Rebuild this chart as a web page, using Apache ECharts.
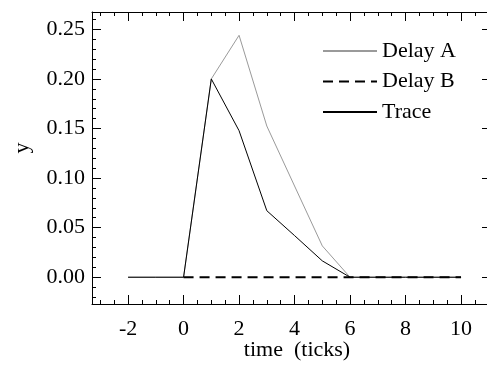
<!DOCTYPE html>
<html>
<head>
<meta charset="utf-8">
<script src="https://cdn.jsdelivr.net/npm/echarts@6/dist/echarts.min.js"></script>
<style>html,body{margin:0;padding:0;background:#fff;}#c{width:487px;height:365px;}</style>
</head>
<body>
<div id="c"></div>
<script>
var xValues = [-2, -1, 0, 1, 2, 3, 4, 5, 6, 7, 8, 9, 10];
var delayA = [0, 0, 0, 0.200, 0.244, 0.1525, 0.092, 0.0316, 0, 0, 0, 0, 0];
var delayBX = [0, 1, 2, 3, 4, 5, 6, 7, 8, 9, 10];
var delayB = [0, 0, 0, 0, 0, 0, 0, 0, 0, 0, 0];
var trace = [0, 0, 0, 0.200, 0.1478, 0.0671, 0.042, 0.0165, 0, 0, 0, 0, 0];
var xMajorTicks = [-2, 0, 2, 4, 6, 8, 10];
var xMinorTicks = [-3, -2.5, -1.5, -1, -0.5, 0.5, 1, 1.5, 2.5, 3, 3.5, 4.5, 5, 5.5, 6.5, 7, 7.5, 8.5, 9, 9.5, 10.5, 11];
var yMajorTicks = [0, 0.05, 0.10, 0.15, 0.20, 0.25];
var yMinorTicks = [-0.02, -0.01, 0.01, 0.02, 0.03, 0.04, 0.06, 0.07, 0.08, 0.09, 0.11, 0.12, 0.13, 0.14, 0.16, 0.17, 0.18, 0.19, 0.21, 0.22, 0.23, 0.24, 0.26];
var xLabel = 'time  (ticks)';
var yLabel = 'y';
var seriesNames = ['Delay A', 'Delay B', 'Trace'];

var FONT = '"Liberation Serif", "Times New Roman", serif';
var X_MIN = -3.3, X_MAX = 11.08, Y_MIN = -0.027, Y_MAX = 0.2675;

function pairs(xs, ys) { return xs.map(function (x, i) { return [x, ys[i]]; }); }

function xAx(pos, ticks, len, showLine, showLabels) {
  return {
    type: 'value', position: pos, min: X_MIN, max: X_MAX, gridIndex: 0,
    axisLine: { show: showLine, onZero: false, lineStyle: { color: '#000', width: 1 } },
    axisTick: { show: true, inside: true, length: len, customValues: ticks, lineStyle: { color: '#000', width: 1 } },
    axisLabel: showLabels ? { show: true, customValues: ticks, margin: 14, color: '#000', fontFamily: FONT, fontSize: 22 } : { show: false },
    splitLine: { show: false }
  };
}
function yAx(pos, ticks, len, showLine, showLabels) {
  return {
    type: 'value', position: pos, min: Y_MIN, max: Y_MAX, gridIndex: 0,
    axisLine: { show: showLine, onZero: false, lineStyle: { color: '#000', width: 1 } },
    axisTick: { show: true, inside: true, length: len, customValues: ticks, lineStyle: { color: '#000', width: 1 } },
    axisLabel: showLabels ? { show: true, customValues: ticks, margin: 7, color: '#000', fontFamily: FONT, fontSize: 22,
      formatter: function (v) { return v.toFixed(2); } } : { show: false },
    splitLine: { show: false }
  };
}

var chart = echarts.init(document.getElementById('c'), null, { renderer: 'canvas' });
chart.setOption({
  animation: false,
  backgroundColor: '#fff',
  grid: { left: 92, top: 12, width: 399, height: 292, containLabel: false, outerBoundsMode: 'none' },
  xAxis: [
    xAx('bottom', xMajorTicks, 9, true, true),
    xAx('bottom', xMinorTicks, 4, false, false),
    xAx('top', xMajorTicks, 9, true, false),
    xAx('top', xMinorTicks, 4, false, false)
  ],
  yAxis: [
    yAx('left', yMajorTicks, 9, true, true),
    yAx('left', yMinorTicks, 4, false, false),
    yAx('right', yMajorTicks, 9, true, false),
    yAx('right', yMinorTicks, 4, false, false)
  ],
  legend: {
    orient: 'vertical', left: 322, top: 40, padding: 0, itemWidth: 54, itemHeight: 14, itemGap: 8.5,
    data: seriesNames,
    itemStyle: { opacity: 0, color: 'rgba(0,0,0,0)', borderWidth: 0 },
    textStyle: { color: '#000', fontFamily: FONT, fontSize: 22 }
  },
  graphic: [
    { type: 'text', x: 297, y: 350, style: { text: xLabel, align: 'center', verticalAlign: 'middle', fill: '#000', font: '22px ' + FONT } },
    { type: 'text', x: 22, y: 148, rotation: Math.PI / 2, style: { text: yLabel, align: 'center', verticalAlign: 'middle', fill: '#000', font: '22px ' + FONT } }
  ],
  series: [
    { name: seriesNames[0], type: 'line', xAxisIndex: 0, yAxisIndex: 0, symbol: 'none', data: pairs(xValues, delayA),
      lineStyle: { color: '#9a9a9a', width: 1 }, itemStyle: { color: '#9a9a9a' } },
    { name: seriesNames[1], type: 'line', xAxisIndex: 0, yAxisIndex: 0, symbol: 'none', data: pairs(delayBX, delayB),
      lineStyle: { color: '#000', width: 2, type: [10, 6] }, itemStyle: { color: '#000' } },
    { name: seriesNames[2], type: 'line', xAxisIndex: 0, yAxisIndex: 0, symbol: 'none', data: pairs(xValues, trace),
      lineStyle: { color: '#000', width: 1 }, itemStyle: { color: '#000' } }
  ]
});
</script>
</body>
</html>
